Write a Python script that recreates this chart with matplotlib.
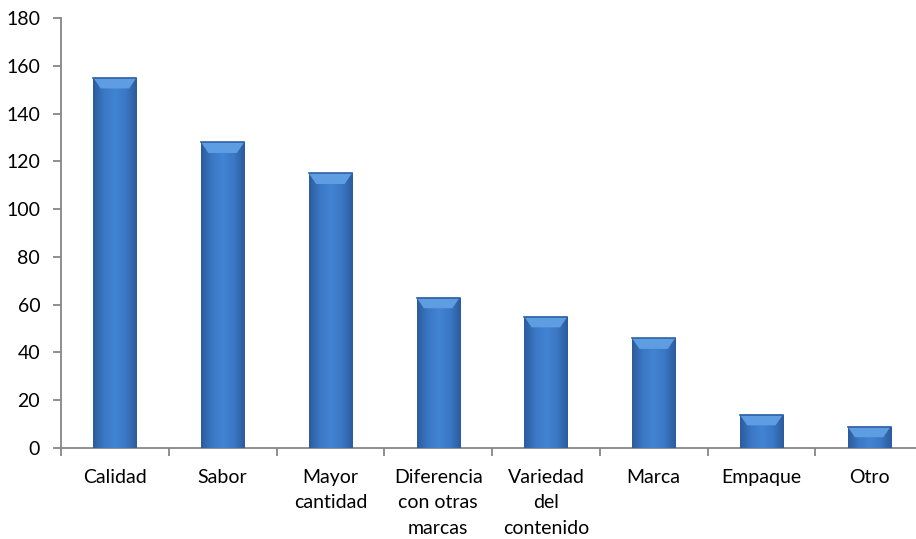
import numpy as np
import matplotlib.pyplot as plt
from matplotlib.colors import LinearSegmentedColormap
from matplotlib.patches import Polygon

plt.rcParams['font.family'] = ['Lato', 'DejaVu Sans']

# Datos
categorias = ['Calidad', 'Sabor', 'Mayor\ncantidad', 'Diferencia\ncon otras\nmarcas',
              'Variedad\ndel\ncontenido', 'Marca', 'Empaque', 'Otro']
valores = [155, 128, 115, 63, 55, 46, 14, 9]

fig = plt.figure(figsize=(9.16, 5.39), dpi=100)
ax = fig.add_axes([61 / 916, 91 / 539, 862 / 916, 430 / 539])

x = np.arange(len(categorias))
barras = ax.bar(x, valores, width=0.4, color='#3f7ecf', edgecolor='none', zorder=2)

# degradado horizontal (bordes oscuros, centro claro)
cmap = LinearSegmentedColormap.from_list('azul', ['#2c5c9c', '#3b78c6', '#4383d3', '#3b78c6', '#2c5c9c'])
grad = np.linspace(0, 1, 64).reshape(1, -1)
bisel = 4.5  # alto del bisel superior en unidades de datos
for b in barras:
    x0, w, h = b.get_x(), b.get_width(), b.get_height()
    im = ax.imshow(grad, cmap=cmap, extent=[x0, x0 + w, 0, h], aspect='auto', zorder=3)
    im.set_clip_path(b)
    # bisel superior
    dx = w * 0.17
    ax.add_patch(Polygon([[x0, h], [x0 + w, h], [x0 + w - dx, h - bisel], [x0 + dx, h - bisel]],
                         closed=True, facecolor='#5f9de3', edgecolor='none', zorder=4))
    ax.plot([x0, x0 + w], [h, h], color='#2f62a6', linewidth=1.2, zorder=5)

ax.set_xlim(-0.5, len(categorias) - 0.5)
ax.set_ylim(0, 180)
ax.set_yticks(range(0, 181, 20))
ax.set_xticks(x)
ax.set_xticklabels(categorias, fontsize=14, linespacing=1.6)
ax.set_xticks(np.arange(-0.5, len(categorias), 1), minor=True)
ax.tick_params(axis='x', which='major', length=0, pad=15)
ax.tick_params(axis='x', which='minor', length=6, width=1.3, color='#868686', direction='out')
ax.tick_params(axis='y', length=6, width=1.3, color='#868686', labelsize=14, pad=9)

for s in ['top', 'right']:
    ax.spines[s].set_visible(False)
for s in ['left', 'bottom']:
    ax.spines[s].set_color('#868686')
    ax.spines[s].set_linewidth(1.3)

fig.savefig('out.png', dpi=100)
